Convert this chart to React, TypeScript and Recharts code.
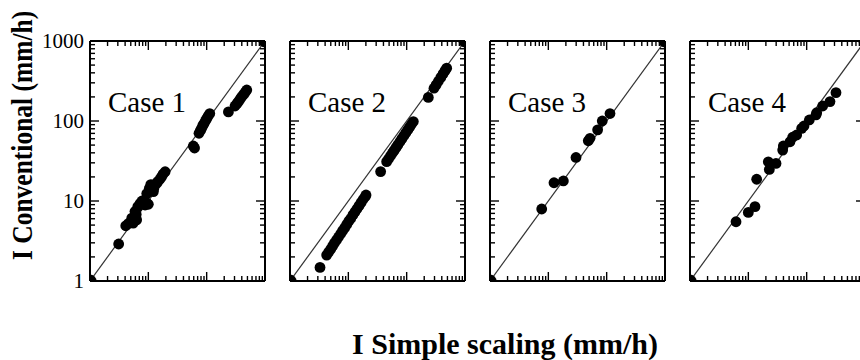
import React from 'react';
import { ScatterChart, Scatter, XAxis, YAxis } from 'recharts';

// ---- data ----
const case1X = [3.1, 4.1, 4.5, 5.2, 5.5, 6.3, 5.9, 6.2, 6.6, 7.2, 7.8, 8.2, 9.4, 10, 8.8, 9.4, 10.4, 11, 12.2, 11.4, 12.5, 13.8, 14.5, 15.8, 16.8, 17.9, 19.4, 59, 62, 73.9, 78, 81.9, 86, 90, 95, 100, 106, 113, 236, 306, 330, 350, 375, 398, 430, 460, 487];
const case1Y = [2.9, 4.9, 5.2, 6.1, 5.3, 5.8, 7.4, 6.8, 8.5, 9.3, 10, 9.8, 9.5, 9.1, 8.9, 12.4, 14.4, 16, 13.1, 15.8, 14.5, 16.6, 17.5, 18.7, 20, 21.7, 23.2, 48.7, 46, 70.2, 76, 81, 88, 93, 100, 107, 115, 124, 130, 154, 165, 175, 188, 201, 215, 230, 244];

const case2X = [3.27, 4.25, 4.6, 5.0, 5.4, 5.8, 6.3, 6.8, 7.4, 8.0, 8.7, 9.4, 10.2, 11.0, 12.0, 13.0, 14.1, 15.3, 16.6, 18.0, 19.5, 20.1, 35.8, 45.4, 49, 53, 57, 61, 66, 71, 77, 83, 90, 97, 105, 113, 121, 130, 235, 294, 320, 350, 385, 420, 455, 485];
const case2Y = [1.48, 2.11, 2.3, 2.5, 2.75, 3.0, 3.27, 3.55, 3.9, 4.26, 4.65, 5.1, 5.6, 6.05, 6.7, 7.3, 8.0, 8.75, 9.6, 10.5, 11.4, 11.9, 23.3, 31, 33.7, 36.8, 39.8, 42.9, 46.8, 50.7, 55.4, 60.2, 65.8, 71.5, 78, 84.5, 91.1, 98.5, 197, 257, 283, 314, 351, 388, 426, 458];

const case3X = [7.7, 12.5, 18.1, 29.8, 48.4, 51.8, 70, 84, 114];
const case3Y = [7.94, 16.9, 17.8, 35, 56.6, 60.8, 77.6, 100, 124];

const case4X = [6.15, 10, 13.0, 13.9, 22.9, 22.0, 29.8, 38.8, 39.8, 51.8, 57.5, 67.4, 82.1, 90, 111, 144.6, 148.6, 188, 251, 318];
const case4Y = [5.5, 7.2, 8.5, 18.7, 24.8, 30.9, 29.5, 43.3, 48.7, 55, 62.6, 66.8, 81, 86.6, 103, 119, 127, 154, 175, 226];

const caseLabels = ['Case 1', 'Case 2', 'Case 3', 'Case 4'];
const oneToOneX = [1, 1000];
const oneToOneY = [1, 1000];
const tickValues = [1, 2, 3, 4, 5, 6, 7, 8, 9, 10, 20, 30, 40, 50, 60, 70, 80, 90, 100, 200, 300, 400, 500, 600, 700, 800, 900, 1000];
const majorTicks = [1, 10, 100, 1000];
const xTitle = 'I Simple scaling (mm/h)';
const yTitle = 'I Conventional (mm/h)';

const SERIF = '"Liberation Serif", "Times New Roman", Times, serif';

const zip = (xs: number[], ys: number[]) => xs.map((x, i) => ({ x, y: ys[i] }));
const panels = [
  zip(case1X, case1Y),
  zip(case2X, case2Y),
  zip(case3X, case3Y),
  zip(case4X, case4Y),
];
const diag = zip(oneToOneX, oneToOneY);

type Side = 'bottom' | 'top' | 'left' | 'right';
const makeTick = (side: Side, labels: boolean) => (props: any) => {
  const { x, y, payload } = props;
  const v = payload.value;
  const major = majorTicks.includes(v);
  const len = major ? 9 : 5;
  let x2 = x;
  let y2 = y;
  if (side === 'bottom') y2 = y - len;
  if (side === 'top') y2 = y + len;
  if (side === 'left') x2 = x + len;
  if (side === 'right') x2 = x - len;
  return (
    <g>
      <line x1={x} y1={y} x2={x2} y2={y2} stroke="#000" strokeWidth={1.4} />
      {labels && major ? (
        <text x={x - 6} y={y + 7} textAnchor="end" fontSize={21} fontFamily={SERIF} fill="#000">
          {v}
        </text>
      ) : null}
    </g>
  );
};

const Dot = (props: any) => <circle cx={props.cx} cy={props.cy} r={5.4} fill="#000" />;
const CornerDot = (props: any) => <circle cx={props.cx} cy={props.cy} r={6.5} fill="#000" />;

const PLOT_W = 175;
const PLOT_H = 240;
const PLOT_TOP = 41;
const panelLeft = [90, 290, 490, 690];

function Panel({ idx }: { idx: number }) {
  const ml = idx === 0 ? 90 : 10;
  const mt = 25;
  const mr = 10;
  const mb = 25;
  const w = ml + PLOT_W + mr;
  const h = mt + PLOT_H + mb;
  const axisLine = { stroke: '#000', strokeWidth: 2 };
  const common = {
    type: 'number' as const,
    scale: 'log' as const,
    domain: [1, 1000],
    allowDataOverflow: true,
    ticks: tickValues,
    interval: 0 as const,
    tickLine: false,
    tickSize: 0,
    tickMargin: 0,
    axisLine,
  };
  return (
    <div style={{ position: 'absolute', left: panelLeft[idx] - ml, top: PLOT_TOP - mt }}>
      <ScatterChart width={w} height={h} margin={{ left: ml - 1, top: mt - 1, right: mr - 1, bottom: mb - 1 }}>
        <XAxis xAxisId="b" dataKey="x" orientation="bottom" height={1} tick={makeTick('bottom', false)} {...common} />
        <XAxis xAxisId="t" dataKey="x" orientation="top" height={1} tick={makeTick('top', false)} {...common} />
        <YAxis yAxisId="l" dataKey="y" orientation="left" width={1} tick={makeTick('left', idx === 0)} {...common} />
        <YAxis yAxisId="r" dataKey="y" orientation="right" width={1} tick={makeTick('right', false)} {...common} />
        <Scatter
          xAxisId="t"
          yAxisId="r"
          data={diag}
          line={{ stroke: '#333', strokeWidth: 1.2 }}
          shape={CornerDot}
          isAnimationActive={false}
        />
        <Scatter xAxisId="b" yAxisId="l" data={panels[idx]} shape={Dot} isAnimationActive={false} />
      </ScatterChart>
    </div>
  );
}

export default function App() {
  return (
    <div
      style={{
        position: 'absolute',
        left: 0,
        top: 0,
        width: 860,
        height: 360,
        overflow: 'hidden',
        background: '#fff',
      }}
    >
      {[0, 1, 2, 3].map((i) => (
        <Panel key={i} idx={i} />
      ))}
      <svg width={860} height={360} style={{ position: 'absolute', left: 0, top: 0, pointerEvents: 'none' }}>
        {caseLabels.map((c, i) => (
          <text key={c} x={panelLeft[i] + 18} y={112} fontSize={29} fontFamily={SERIF} fill="#000">
            {c}
          </text>
        ))}
        <text
          x={505}
          y={354}
          textAnchor="middle"
          fontSize={30}
          fontWeight="bold"
          fontFamily={SERIF}
          fill="#000"
        >
          {xTitle}
        </text>
        <text
          x={0}
          y={0}
          transform="translate(32 260) rotate(-90) scale(1 1.15)"
          textAnchor="start"
          fontSize={25.5}
          fontWeight="bold"
          fontFamily={SERIF}
          fill="#000"
        >
          {yTitle}
        </text>
      </svg>
    </div>
  );
}
